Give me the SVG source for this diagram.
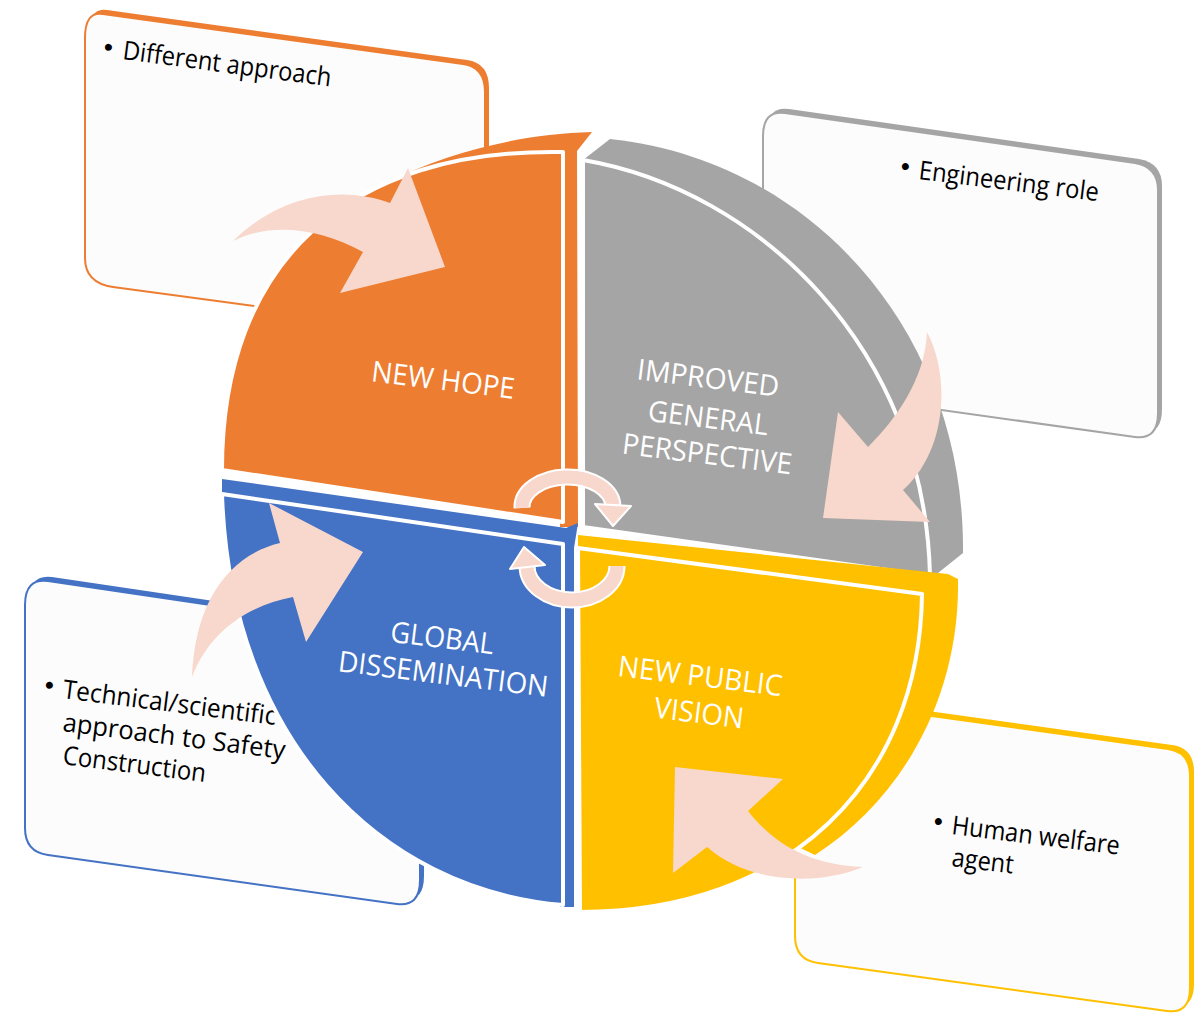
<svg xmlns="http://www.w3.org/2000/svg" width="1201" height="1019" viewBox="0 0 1201 1019">
<style>
.bf{fill:#FCFCFC;stroke-width:2}
.face{stroke:#fff;stroke-width:4;stroke-linejoin:round}
.lbl{font-family:"Open Sans","Liberation Sans",sans-serif;font-size:29px;fill:#fff;text-anchor:middle}
.txt{font-family:"Open Sans","Liberation Sans",sans-serif;font-size:26px;fill:#000}
.bul{font-family:"DejaVu Sans",sans-serif;font-size:24px;fill:#000}
.arr{fill:#F8D7CC}
.ring-w{fill:none;stroke:#fff;stroke-width:17}
.ring{fill:none;stroke:#F8D7CC;stroke-width:13}
.head{fill:#F8D7CC;stroke:#fff;stroke-width:2;stroke-linejoin:round}
</style>
<rect width="1201" height="1019" fill="#fff"/>

<g id="box-orange">
<path transform="translate(4,-4)" fill="#ED7D31" d="M 103,14 L 463,64 Q 485,67 485,92 L 485,337 L 113,287 Q 85,283 85,258 L 85,38 Q 85,11 103,14 Z"/>
<path class="bf" stroke="#ED7D31" d="M 103,14 L 463,64 Q 485,67 485,92 L 485,337 L 113,287 Q 85,283 85,258 L 85,38 Q 85,11 103,14 Z"/>
<text class="bul" x="100" y="58" transform="rotate(7.5 122 58)">•</text>
<text class="txt" x="122" y="59" transform="rotate(7.5 122 59)" textLength="210" lengthAdjust="spacingAndGlyphs">Different approach</text>
</g>

<g id="box-gray">
<path transform="translate(4,-4)" fill="#A5A5A5" d="M 785,113 L 1135,163 Q 1158,167 1158,190 L 1158,413 Q 1158,440 1135,437 L 763,385 L 763,136 Q 763,110 785,113 Z"/>
<path class="bf" stroke="#A5A5A5" d="M 785,113 L 1135,163 Q 1158,167 1158,190 L 1158,413 Q 1158,440 1135,437 L 763,385 L 763,136 Q 763,110 785,113 Z"/>
<text class="bul" x="897" y="177" transform="rotate(7 918 177)">•</text>
<text class="txt" x="918" y="179" transform="rotate(7 918 179)" textLength="181" lengthAdjust="spacingAndGlyphs">Engineering role</text>
</g>

<g id="box-blue">
<path transform="translate(4,-4)" fill="#4472C4" d="M 48,581 L 420,636 L 420,880 Q 420,907 397,904 L 48,855 Q 25,852 25,828 L 25,605 Q 25,578 48,581 Z"/>
<path class="bf" stroke="#4472C4" d="M 48,581 L 420,636 L 420,880 Q 420,907 397,904 L 48,855 Q 25,852 25,828 L 25,605 Q 25,578 48,581 Z"/>
<text class="bul" x="41" y="696" transform="rotate(7.2 62 696)">•</text>
<text class="txt" x="62" y="698" transform="rotate(7.2 62 698)" textLength="215" lengthAdjust="spacingAndGlyphs">Technical/scientific</text>
<text class="txt" x="62" y="731" transform="rotate(7.2 62 731)" textLength="224" lengthAdjust="spacingAndGlyphs">approach to Safety</text>
<text class="txt" x="62" y="764" transform="rotate(7.2 62 764)" textLength="144" lengthAdjust="spacingAndGlyphs">Construction</text>
</g>

<g id="box-yellow">
<path transform="translate(4,-4)" fill="#FFC000" d="M 795,697 L 1168,749 Q 1190,752 1190,776 L 1190,988 Q 1190,1014 1167,1011 L 818,963 Q 795,960 795,936 Z"/>
<path class="bf" stroke="#FFC000" d="M 795,697 L 1168,749 Q 1190,752 1190,776 L 1190,988 Q 1190,1014 1167,1011 L 818,963 Q 795,960 795,936 Z"/>
<text class="bul" x="930" y="832" transform="rotate(7 951 832)">•</text>
<text class="txt" x="951" y="834" transform="rotate(7 951 834)" textLength="169" lengthAdjust="spacingAndGlyphs">Human welfare</text>
<text class="txt" x="951" y="866" transform="rotate(7 951 866)" textLength="62" lengthAdjust="spacingAndGlyphs">agent</text>
</g>

<g id="q-new-hope">
<path fill="#ED7D31" d="M 390,181 C 450,152 520,134 592,132 L 577,151 L 578,527 L 560,527 L 560,190 L 400,205 Z"/>
<path class="face" fill="#ED7D31" d="M 563,152 C 350,148 222,260 222,470 L 563,522 Z"/>
<text class="lbl" x="442" y="390" transform="rotate(7 442 390)" textLength="144" lengthAdjust="spacingAndGlyphs">NEW HOPE</text>
</g>

<g id="q-improved">
<path fill="#A5A5A5" d="M 583,160 L 610,139 C 810,160 965,330 963,553 L 933,577 L 800,450 L 600,200 Z"/>
<path class="face" fill="#A5A5A5" d="M 583,160 C 760,190 925,350 930,576 L 583,527 Z"/>
<text class="lbl" x="707" y="388" transform="rotate(7 707 388)" textLength="143" lengthAdjust="spacingAndGlyphs">IMPROVED</text>
<text class="lbl" x="707" y="428" transform="rotate(7 707 428)" textLength="121" lengthAdjust="spacingAndGlyphs">GENERAL</text>
<text class="lbl" x="706" y="464" transform="rotate(7 706 464)" textLength="171" lengthAdjust="spacingAndGlyphs">PERSPECTIVE</text>
</g>

<g id="q-public-vision">
<path fill="#FFC000" d="M 578,535 L 948,574 L 958,579 C 960,700 900,800 815,855 L 700,800 L 578,560 Z"/>
<path class="face" fill="#FFC000" d="M 578,548 L 922,594 C 920,780 790,912 580,912 Z"/>
<text class="lbl" x="699" y="686" transform="rotate(7 699 686)" textLength="165" lengthAdjust="spacingAndGlyphs">NEW PUBLIC</text>
<text class="lbl" x="698" y="723" transform="rotate(7 698 723)" textLength="90" lengthAdjust="spacingAndGlyphs">VISION</text>
</g>

<g id="q-global">
<path fill="#4472C4" d="M 222,479 L 566,528 L 578,523 L 574,548 L 574,907 L 560,907 L 560,560 L 222,510 Z"/>
<path class="face" fill="#4472C4" d="M 222,494 L 563,544 L 563,905 C 380,890 230,740 222,494 Z"/>
<text class="lbl" x="441" y="648" transform="rotate(7 441 648)" textLength="104" lengthAdjust="spacingAndGlyphs">GLOBAL</text>
<text class="lbl" x="442" y="684" transform="rotate(7 442 684)" textLength="211" lengthAdjust="spacingAndGlyphs">DISSEMINATION</text>
</g>

<g id="connectors">
<path class="arr" d="M 233,241 C 280,195 340,185 390,203 L 408,168 L 445,267 L 340,293 L 363,252 C 320,228 270,222 233,241 Z"/>
<path class="arr" d="M 927,332 C 950,375 948,450 903,490 L 930,522 L 823,518 L 838,412 L 868,447 C 895,420 925,380 927,332 Z"/>
<path class="arr" d="M 192,677 C 195,600 230,555 280,543 L 269,503 L 363,552 L 306,642 L 293,597 C 250,605 210,630 192,677 Z"/>
<path class="arr" d="M 675,767 L 783,779 L 748,811 C 775,845 810,865 863,867 C 820,885 750,885 707,847 L 673,873 Z"/>
<path class="ring-w" d="M 522,508 A 45.5 30 0 0 1 613,506"/>
<path class="ring" d="M 522,508 A 45.5 30 0 0 1 613,506"/>
<polygon class="head" points="595,504 631,506 613,526"/>
<path class="ring-w" d="M 617,566 A 45 34 0 0 1 527,566"/>
<path class="ring" d="M 617,566 A 45 34 0 0 1 527,566"/>
<polygon class="head" points="510,569 545,565 524,547"/>
</g>
</svg>
